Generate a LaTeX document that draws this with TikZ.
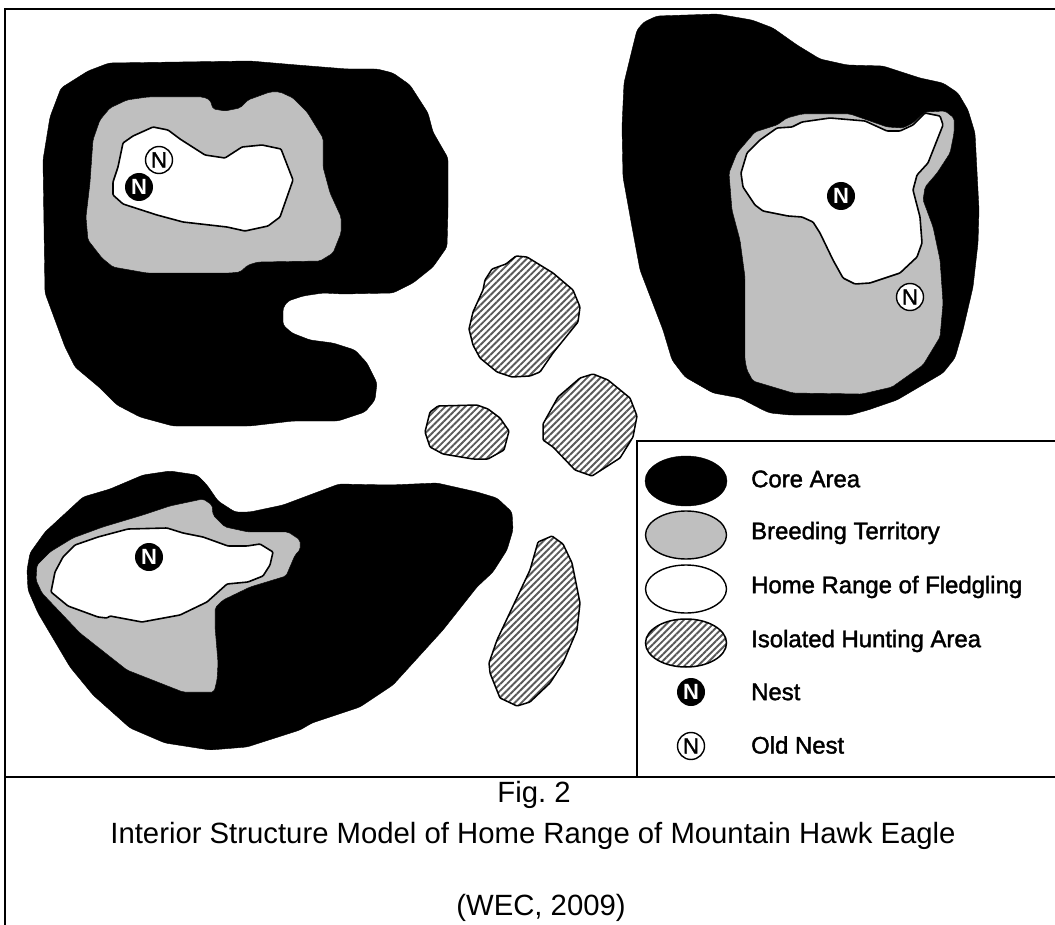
\documentclass[tikz,border=0pt]{standalone}
\usepackage{fontspec}
\setmainfont{Liberation Sans}
\newfontfamily\legendfont[FakeBold=1.6]{Liberation Sans}
\usetikzlibrary{patterns.meta}
\definecolor{breedgray}{gray}{0.75}
\tikzset{
	core/.style={fill=black,rounded corners=3pt},
	breeding/.style={fill=breedgray,rounded corners=2pt},
	fledgling/.style={draw=black,line width=1.6pt,fill=white,rounded corners=1pt},
	hunting/.style={draw=black,line width=1.5pt,rounded corners=1pt,
		pattern={Lines[angle=45,distance=4.7pt,line width=1.9pt]},pattern color=black!65},
	nestmark/.style={circle,fill=black,text=white,inner sep=0pt,minimum size=28pt,font=\bfseries\fontsize{22}{22}\selectfont},
	oldnest/.style={circle,draw=black,line width=1.4pt,fill=white,inner sep=0pt,minimum size=27pt,font=\legendfont\fontsize{22}{22}\selectfont},
	legendtext/.style={anchor=west,inner sep=0pt,font=\legendfont\fontsize{23.9}{25}\selectfont},
	captiontext/.style={inner sep=0pt,font=\fontsize{29.3}{31}\selectfont}
}
\begin{document}
\begin{tikzpicture}[x=1pt,y=-1pt]
	\useasboundingbox (0,0) rectangle (1055,925);
	% top left range
	\draw[core] (109,63) -- (250,61) -- (297,65) -- (347,69) -- (377,69) -- (393,73) -- (410,85) -- (428,113) -- (433,132) -- (448,158) -- (448,210) -- (447,247) -- (433,267) -- (413,283) -- (393,293) -- (343,294) -- (323,293) -- (303,296) -- (288,301) -- (283,308) -- (283,325) -- (292,333) -- (310,340) -- (333,343) -- (355,350) -- (367,363) -- (377,383) -- (375,400) -- (365,412) -- (338,421) -- (293,421) -- (250,426) -- (173,426) -- (140,417) -- (117,405) -- (100,388) -- (75,367) -- (65,347) -- (45,293) -- (43,160) -- (50,117) -- (61,88) -- (88,71) -- cycle;
	\draw[breeding] (148,97) -- (203,97) -- (210,100) -- (213,109) -- (225,111) -- (240,108) -- (248,100) -- (270,92) -- (280,92) -- (293,98) -- (307,112) -- (323,138) -- (323,167) -- (330,193) -- (341,217) -- (341,233) -- (333,253) -- (320,261) -- (258,262) -- (248,265) -- (240,272) -- (230,273) -- (147,273) -- (113,267) -- (102,258) -- (88,240) -- (86,217) -- (90,183) -- (93,140) -- (100,120) -- (110,108) -- (127,100) -- cycle;
	\draw[fledgling] (153,127) -- (168,130) -- (180,139) -- (205,155) -- (225,158) -- (242,147) -- (262,145) -- (281,149) -- (293,180) -- (280,217) -- (268,226) -- (245,231) -- (227,227) -- (183,222) -- (157,215) -- (123,204) -- (113,195) -- (113,182) -- (118,167) -- (123,143) -- (133,136) -- cycle;
	\node[oldnest] (oldnesta) at (159,160) {N};
	\node[nestmark] (nesta) at (139,187) {N};
	% top right range
	\draw[core] (657,16) -- (717,14) -- (752,20) -- (773,28) -- (797,45) -- (820,59) -- (847,65) -- (883,66) -- (920,78) -- (943,83) -- (958,93) -- (968,110) -- (975,133) -- (979,210) -- (978,243) -- (973,287) -- (963,330) -- (955,358) -- (943,373) -- (897,400) -- (868,410) -- (850,415) -- (790,415) -- (770,413) -- (763,410) -- (740,398) -- (713,393) -- (685,377) -- (672,360) -- (663,330) -- (640,270) -- (632,227) -- (623,177) -- (622,127) -- (624,83) -- (632,50) -- (637,30) -- (644,22) -- cycle;
	\draw[breeding] (802,114) -- (850,114) -- (887,127) -- (903,128) -- (913,123) -- (925,112) -- (945,111) -- (954,118) -- (954,133) -- (950,153) -- (937,173) -- (925,187) -- (923,200) -- (933,227) -- (940,260) -- (943,303) -- (940,337) -- (923,365) -- (892,387) -- (862,394) -- (793,393) -- (753,381) -- (747,370) -- (745,360) -- (745,277) -- (740,240) -- (732,210) -- (729,173) -- (737,153) -- (755,132) -- (777,125) -- (787,118) -- cycle;
	\draw[fledgling] (777,128) -- (792,127) -- (802,122) -- (830,118) -- (865,121) -- (887,131) -- (900,131) -- (913,125) -- (925,113) -- (940,116) -- (943,125) -- (928,163) -- (917,175) -- (913,190) -- (920,217) -- (922,243) -- (917,257) -- (900,273) -- (870,283) -- (855,284) -- (843,278) -- (833,260) -- (820,233) -- (813,222) -- (802,217) -- (788,216) -- (763,211) -- (755,205) -- (743,187) -- (741,173) -- (747,153) -- (760,140) -- cycle;
	\node[nestmark] (nestb) at (841,196) {N};
	\node[oldnest] (oldnestb) at (910,297) {N};
	% bottom left range
	\draw[core] (170,471) -- (197,475) -- (207,485) -- (218,501) -- (235,512) -- (250,512) -- (283,505) -- (339,484) -- (390,485) -- (437,483) -- (477,492) -- (497,498) -- (512,512) -- (513,530) -- (507,550) -- (493,572) -- (477,587) -- (443,630) -- (393,685) -- (360,707) -- (312,723) -- (300,730) -- (247,747) -- (210,750) -- (165,743) -- (130,728) -- (93,695) -- (70,667) -- (38,613) -- (28,590) -- (27,570) -- (30,553) -- (45,532) -- (83,497) -- (110,489) -- (143,475) -- cycle;
	\draw[breeding] (203,499) -- (212,505) -- (213,515) -- (225,527) -- (248,532) -- (288,532) -- (300,540) -- (300,550) -- (295,555) -- (286,576) -- (250,587) -- (223,600) -- (215,608) -- (215,627) -- (218,663) -- (217,680) -- (214,692) -- (183,692) -- (127,670) -- (80,633) -- (42,593) -- (36,580) -- (37,565) -- (50,552) -- (73,538) -- (103,527) -- (143,515) -- (170,506) -- cycle;
	\draw[fledgling] (75,545) -- (98,537) -- (128,529) -- (167,528) -- (183,533) -- (203,537) -- (228,546) -- (247,546) -- (260,544) -- (273,552) -- (270,565) -- (263,576) -- (248,582) -- (227,584) -- (207,602) -- (180,615) -- (142,622) -- (110,616) -- (107,618) -- (98,617) -- (68,606) -- (51,592) -- (55,572) -- (63,557) -- cycle;
	\node[nestmark] (nestc) at (149,557) {N};
	% hunting areas
	\draw[hunting] (516,256) -- (527,257) -- (553,273) -- (573,290) -- (580,307) -- (578,322) -- (553,353) -- (540,372) -- (530,376) -- (512,377) -- (497,372) -- (480,358) -- (473,345) -- (469,329) -- (473,312) -- (483,290) -- (485,280) -- (492,269) -- (506,264) -- cycle;
	\draw[hunting] (438,406) -- (477,405) -- (488,409) -- (500,418) -- (509,431) -- (504,450) -- (488,459) -- (473,459) -- (443,454) -- (430,447) -- (425,432) -- (430,412) -- cycle;
	\draw[hunting] (593,374) -- (608,380) -- (630,398) -- (637,416) -- (633,437) -- (620,458) -- (592,476) -- (575,470) -- (553,447) -- (543,440) -- (543,424) -- (558,397) -- (580,378) -- cycle;
	\draw[hunting] (552,536) -- (563,544) -- (572,563) -- (580,603) -- (577,630) -- (563,663) -- (550,683) -- (530,702) -- (517,706) -- (500,698) -- (490,673) -- (489,663) -- (497,640) -- (530,570) -- (538,542) -- cycle;
	% legend
	\draw[line width=1.8pt,fill=white] (1056,441) -- (637,441) -- (637,777);
	\draw[fill=black] (686,481) ellipse (41 and 25);
	\draw[line width=1.4pt,fill=breedgray] (686,535) ellipse (40.5 and 24);
	\draw[line width=1.4pt,fill=white] (686,589) ellipse (40.5 and 24);
	\draw[hunting] (686,643) ellipse (40.5 and 24);
	\node[nestmark] (nestkey) at (691,692) {N};
	\node[oldnest] (oldnestkey) at (691,746) {N};
	\node[legendtext] (corelabel) at (751,479) {Core Area};
	\node[legendtext] (breedlabel) at (751,533) {Breeding Territory};
	\node[legendtext] (homelabel) at (751,587) {Home Range of Fledgling};
	\node[legendtext] (huntlabel) at (751,641) {Isolated Hunting Area};
	\node[legendtext] (nestlabel) at (751,692) {Nest};
	\node[legendtext] (oldlabel) at (751,745) {Old Nest};
	% frame
	\draw[line width=2pt] (1056,9) -- (5,9) -- (5,926);
	\draw[line width=2pt] (5,777) -- (1056,777);
	% caption
	\node[captiontext] (figlabel) at (534,795) {Fig.\ 2};
	\node[captiontext] (titlelabel) at (533,836) {Interior Structure Model of Home Range of Mountain Hawk Eagle};
	\node[captiontext] (sourcelabel) at (541,908) {(WEC, 2009)};
\end{tikzpicture}
\end{document}
